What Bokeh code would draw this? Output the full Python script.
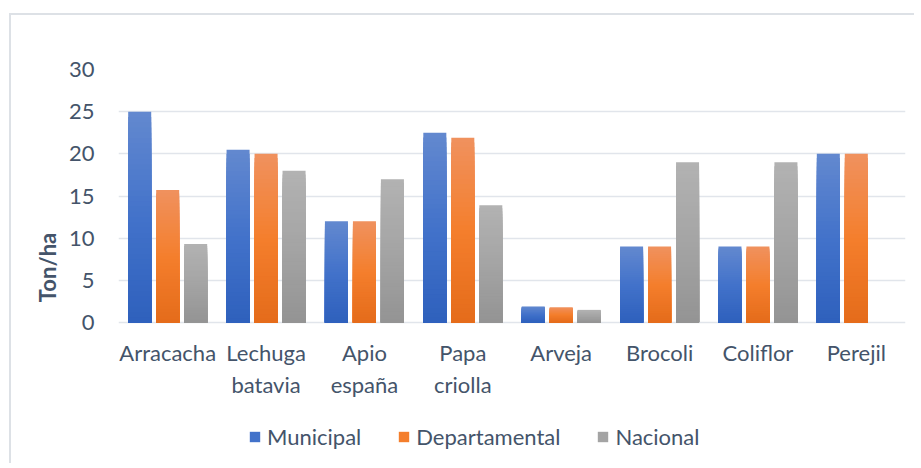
from bokeh.plotting import figure
from bokeh.models import (ColumnDataSource, FactorRange, Range1d, FixedTicker, Legend,
                          LegendItem)
from bokeh.transform import dodge
from bokeh.embed import file_html
from bokeh.resources import INLINE

categories = ["Arracacha", "Lechuga\nbatavia", "Apio\nespaña", "Papa\ncriolla",
              "Arveja", "Brocoli", "Coliflor", "Perejil"]
series_names = ["Municipal", "Departamental", "Nacional"]
municipal = [25.0, 20.5, 12.0, 22.5, 1.9, 9.0, 9.0, 20.0]
departamental = [15.7, 20.0, 12.0, 21.9, 1.8, 9.0, 9.0, 20.0]
nacional = [9.3, 18.0, 17.0, 13.9, 1.5, 19.0, 19.0, 0.0]
y_ticks = [0, 5, 10, 15, 20, 25, 30]

# gradient stops (bottom, middle, top) per series
gradients = [
    ("#2E60BC", "#4272CA", "#6288CF"),
    ("#E46B1A", "#F47E2C", "#F0915D"),
    ("#939393", "#A4A4A4", "#B2B2B2"),
]
offsets = [-0.2845, 0.0, 0.2845]
bar_w = 0.234
TXT = "#44546A"
FONT = "Lato"


def hex2rgb(h):
    h = h.lstrip("#")
    return [int(h[i:i + 2], 16) for i in (0, 2, 4)]


def grad_color(stops, f):
    b, m, t = [hex2rgb(s) for s in stops]
    if f < 0.5:
        a, c, g = b, m, f / 0.5
    else:
        a, c, g = m, t, (f - 0.5) / 0.5
    return "#%02x%02x%02x" % tuple(int(round(a[i] + (c[i] - a[i]) * g)) for i in range(3))


# frame spans down to the bottom of the canvas so the legend below the axis is not clipped
p = figure(x_range=FactorRange(*categories), y_range=Range1d(-16.95, 30),
           width=905, height=450, output_backend="svg", toolbar_location=None,
           min_border_left=107, min_border_right=11, min_border_top=54, min_border_bottom=0,
           outline_line_color=None, background_fill_color="white", border_fill_color="white")
p.styles = {"margin-left": "9px", "margin-top": "13px",
            "border-left": "2px solid #DDE1E6", "border-top": "2px solid #DDE1E6"}

N = 40
legend_items = []
for s_idx, vals in enumerate([municipal, departamental, nacional]):
    mid_r = None
    for k in range(N):
        frac = (N - k) / N
        src = ColumnDataSource(dict(x=categories, top=[v * frac for v in vals]))
        r = p.vbar(x=dodge("x", offsets[s_idx], range=p.x_range), top="top", bottom=0,
                   width=bar_w, source=src, fill_color=grad_color(gradients[s_idx], frac),
                   line_color=None)
        if k == N // 2:
            mid_r = r
    legend_items.append(LegendItem(label=series_names[s_idx], renderers=[mid_r]))

legend = Legend(items=legend_items, orientation="horizontal", location=(130, 15),
                label_text_font=FONT, label_text_font_size="22px", label_text_color=TXT,
                glyph_width=13, glyph_height=13, label_standoff=6, spacing=36,
                padding=0, margin=0, border_line_color=None, background_fill_alpha=0)
p.add_layout(legend, "center")

p.xgrid.grid_line_color = None
p.ygrid.grid_line_color = "#E1E5EB"
p.ygrid.grid_line_width = 1.5
p.yaxis.ticker = FixedTicker(ticks=y_ticks)
p.xaxis.fixed_location = 0

for ax in (p.xaxis[0], p.yaxis[0]):
    ax.axis_line_color = None
    ax.major_tick_line_color = None
    ax.minor_tick_line_color = None
    ax.major_label_text_font = FONT
    ax.major_label_text_font_size = "22px"
    ax.major_label_text_color = TXT

p.yaxis.major_label_standoff = 18
p.xaxis.major_label_standoff = 10
p.yaxis.axis_label = "Ton/ha"
p.yaxis.axis_label_text_font = FONT
p.yaxis.axis_label_text_font_size = "22px"
p.yaxis.axis_label_text_font_style = "bold"
p.yaxis.axis_label_text_color = TXT
p.yaxis.axis_label_standoff = 5

open("out.html", "w").write(file_html(p, INLINE))
